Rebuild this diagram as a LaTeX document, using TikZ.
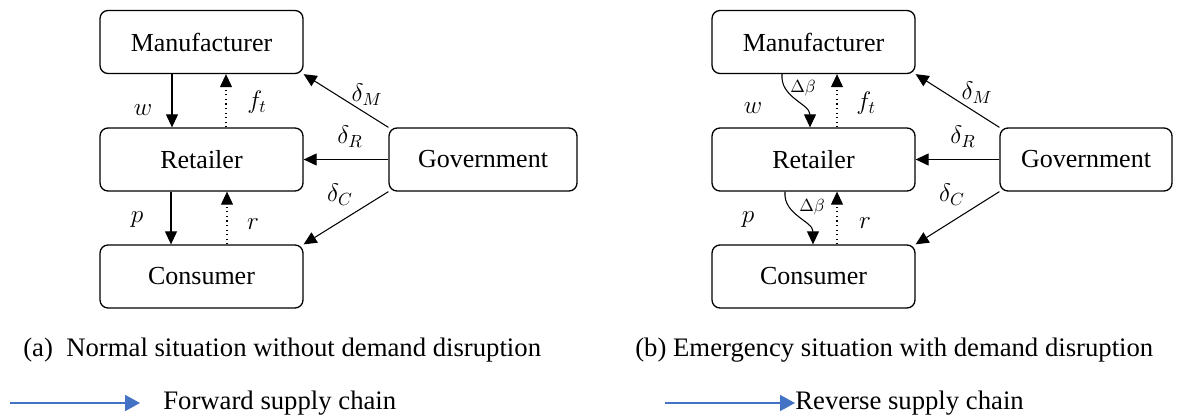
\documentclass[tikz,border=0pt,12pt]{standalone}
\usepackage{fontspec}
\setmainfont{LiberationSerif}[Extension=.ttf,UprightFont=*-Regular,BoldFont=*-Bold,
  ItalicFont=*-Italic,BoldItalicFont=*-BoldItalic]
\usepackage{tikz}
\usetikzlibrary{arrows.meta,calc}
\definecolor{legendblue}{HTML}{4472C4}

\begin{document}
\begin{tikzpicture}[x=0.02cm,y=-0.02cm,
    actor/.style={draw=black,line width=0.75pt,rounded corners=1.6mm,minimum width=4.06cm,
                  minimum height=1.26cm,inner sep=0,font=\fontsize{14.8}{17}\selectfont},
    flow/.style={line width=0.6pt,-{Triangle[length=2.6mm,width=2.4mm]}},
    back/.style={flow,dotted},
    lbl/.style={inner sep=0,font=\large},
    tiny/.style={inner sep=0,font=\footnotesize},
    caption/.style={anchor=west,inner sep=0,font=\fontsize{15.2}{18}\selectfont},
    legendarrow/.style={legendblue,line width=1pt,-{Triangle[length=3mm,width=3.2mm]}}]

  \useasboundingbox (0,0) rectangle (1184,419);

  % (a) Normal situation
  \node[actor] (manA) at (201.5,42) {Manufacturer};
  \node[actor] (retA) at (201.5,159.5) {Retailer};
  \node[actor] (conA) at (201.5,276.5) {Consumer};
  \node[actor,minimum width=3.76cm] (govA) at (483,159.5) {Government};

  \draw[flow] ($(manA.south)+(-29.5,0)$) -- ($(retA.north)+(-29.5,0)$);
  \draw[back] ($(retA.north)+(24.5,0)$) -- ($(manA.south)+(24.5,0)$);
  \draw[flow] ($(retA.south)+(-30.5,0)$) -- ($(conA.north)+(-30.5,0)$);
  \draw[back] ($(conA.north)+(25.5,0)$) -- ($(retA.south)+(25.5,0)$);
  \draw[flow] (govA.north west) -- (manA.south east);
  \draw[flow] (govA.west) -- (retA.east);
  \draw[flow] (govA.south west) -- (conA.north east);

  \node[lbl] (wA) at (143,110) {$w$};
  \node[lbl] (ftA) at (257,102) {$f_t$};
  \node[lbl] (pA) at (137,220) {$p$};
  \node[lbl] (rA) at (253,224) {$r$};
  \node[lbl] (dmA) at (367,95) {$\delta_M$};
  \node[lbl] (drA) at (350,137) {$\delta_R$};
  \node[lbl] (dcA) at (340,195) {$\delta_C$};

  % (b) Emergency situation
  \node[actor] (manB) at (813.5,42) {Manufacturer};
  \node[actor] (retB) at (813.5,159.5) {Retailer};
  \node[actor] (conB) at (813.5,276.5) {Consumer};
  \node[actor,minimum width=3.44cm] (govB) at (1086,159.5) {Government};

  \draw[flow] ($(manB.south)+(-31.5,0)$) to[out=-95,in=90] ($(retB.north)+(-3.5,0)$);
  \draw[back] ($(retB.north)+(23.5,0)$) -- ($(manB.south)+(23.5,0)$);
  \draw[flow] ($(retB.south)+(-28.5,0)$) to[out=-95,in=90] ($(conB.north)+(-0.5,0)$);
  \draw[back] ($(conB.north)+(23.5,0)$) -- ($(retB.south)+(23.5,0)$);
  \draw[flow] (govB.north west) -- (manB.south east);
  \draw[flow] (govB.west) -- (retB.east);
  \draw[flow] (govB.south west) -- (conB.north east);

  \node[lbl] (wB) at (753,108) {$w$};
  \node[lbl] (ftB) at (866,103) {$f_t$};
  \node[lbl] (pB) at (748,220) {$p$};
  \node[lbl] (rB) at (865,223) {$r$};
  \node[lbl] (dmB) at (977,93) {$\delta_M$};
  \node[lbl] (drB) at (963,137) {$\delta_R$};
  \node[lbl] (dcB) at (952,195) {$\delta_C$};
  \node[tiny] (dbTop) at (803,88) {$\Delta\beta$};
  \node[tiny] (dbBot) at (812,207) {$\Delta\beta$};

  % Captions
  \node[caption] (capA) at (23,350) {(a)~ Normal situation without demand disruption};
  \node[caption] (capB) at (635,350) {(b) Emergency situation with demand disruption};

  % Legend
  \coordinate (fwdStart) at (10,403);
  \node[caption] (fwdText) at (163,403) {Forward supply chain};
  \draw[legendarrow] (fwdStart) -- ($(fwdText.west)+(-23,0)$);
  \coordinate (revStart) at (665,403);
  \node[caption] (revText) at (795,403) {Reverse supply chain};
  \draw[legendarrow] (revStart) -- (revText.west);

\end{tikzpicture}
\end{document}
